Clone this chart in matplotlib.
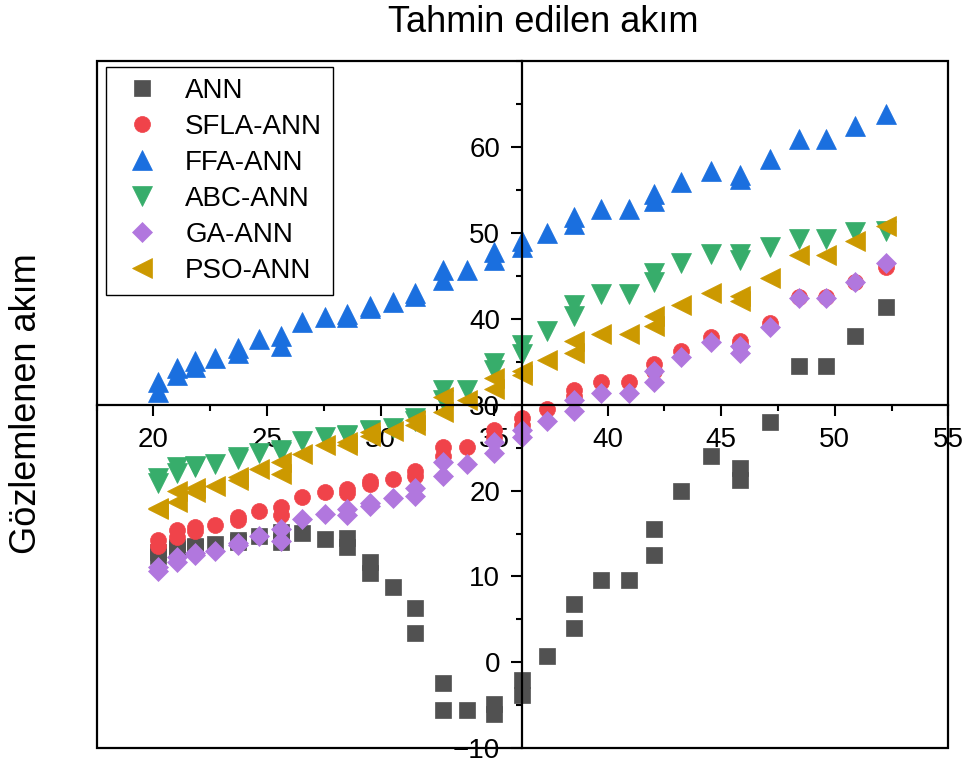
import matplotlib
matplotlib.use("Agg")
from matplotlib import pyplot as plt
from matplotlib.patches import Rectangle
from matplotlib.ticker import MultipleLocator

plt.rcParams['font.family'] = ['Liberation Sans', 'DejaVu Sans']

# shared x positions (some values repeat)
x = [20.22, 20.22, 21.05, 21.05, 21.85, 21.85, 22.73, 23.72, 23.72, 24.63,
     25.62, 25.62, 26.54, 27.55, 28.54, 28.54, 29.53, 29.53, 30.54, 31.53,
     31.53, 32.75, 32.75, 33.82, 35.0, 35.0, 36.23, 36.23, 37.35, 38.53,
     38.53, 39.72, 40.94, 42.03, 42.03, 43.24, 44.53, 45.81, 45.81, 47.13,
     48.43, 49.61, 50.91, 52.24]

ann = [12.9, 12.4, 13.4, 13.2, 13.6, 13.4, 13.8, 14.2, 14.0, 14.7,
       15.2, 14.0, 15.1, 14.4, 14.5, 13.4, 11.7, 10.4, 8.8, 6.3,
       3.4, -2.4, -5.6, -5.6, -4.8, -6.0, -2.0, -3.8, 0.7, 6.8,
       4.0, 9.6, 9.6, 15.5, 12.5, 19.9, 24.0, 22.6, 21.2, 28.0,
       34.5, 34.5, 38.0, 41.4]

sfla = [14.3, 13.6, 15.4, 14.6, 15.8, 15.3, 16.0, 16.9, 16.6, 17.6,
        18.1, 17.1, 19.3, 19.8, 20.2, 19.7, 21.1, 20.8, 21.4, 22.3,
        21.7, 25.1, 24.0, 25.1, 27.1, 26.2, 28.5, 27.6, 29.5, 31.7,
        31.0, 32.6, 32.6, 34.7, 33.9, 36.2, 37.9, 37.4, 36.9, 39.5,
        42.5, 42.5, 44.3, 46.0]

ffa = [32.6, 31.5, 34.3, 33.4, 35.1, 34.4, 35.4, 36.6, 36.0, 37.6,
       38.0, 36.8, 39.6, 40.2, 40.6, 40.2, 41.5, 41.2, 42.0, 43.0,
       42.6, 45.7, 44.5, 45.7, 47.8, 46.9, 49.0, 48.4, 50.0, 51.9,
       51.0, 52.8, 52.8, 54.5, 53.7, 55.9, 57.2, 56.7, 56.3, 58.6,
       60.9, 60.9, 62.4, 63.8]

abc = [21.5, 20.9, 22.7, 22.1, 22.9, 22.7, 23.1, 23.9, 23.7, 24.4,
       24.7, 24.5, 25.8, 26.2, 26.5, 26.3, 27.1, 26.9, 27.3, 28.5,
       28.1, 31.7, 30.6, 31.7, 34.9, 34.0, 37.0, 35.9, 38.6, 41.6,
       40.3, 42.9, 42.9, 45.3, 44.3, 46.5, 47.5, 47.5, 46.9, 48.4,
       49.3, 49.3, 50.1, 50.2]

ga = [11.1, 10.6, 12.3, 11.7, 12.7, 12.5, 13.0, 13.9, 13.7, 14.7,
      15.5, 14.1, 16.7, 17.3, 17.8, 17.1, 18.6, 18.2, 19.1, 20.3,
      19.4, 23.3, 21.7, 23.1, 25.6, 24.4, 27.0, 26.2, 28.1, 30.5,
      29.3, 31.4, 31.4, 33.9, 32.6, 35.5, 37.3, 36.8, 36.0, 39.1,
      42.4, 42.4, 44.3, 46.5]

pso = [18.0, 17.8, 19.9, 18.7, 20.3, 19.8, 20.5, 21.6, 21.2, 22.5,
       23.3, 21.9, 24.3, 25.3, 25.7, 25.3, 26.8, 26.4, 26.9, 28.2,
       27.6, 30.9, 29.2, 30.6, 33.1, 31.8, 33.9, 33.5, 35.2, 37.4,
       36.0, 38.2, 38.2, 40.3, 39.2, 41.6, 43.0, 42.7, 42.1, 44.7,
       47.4, 47.4, 49.0, 50.8]

labels = ['ANN', 'SFLA-ANN', 'FFA-ANN', 'ABC-ANN', 'GA-ANN', 'PSO-ANN']
series = [ann, sfla, ffa, abc, ga, pso]
colors = ['#515151', '#F0434A', '#1A6FDF', '#37AD6B', '#B177DE', '#CC9900']
markers = ['s', 'o', '^', 'v', 'D', '<']
sizes = [11, 11.5, 14, 14, 10.5, 14]

fig = plt.figure(figsize=(9.72, 7.64), dpi=100)
ax = fig.add_axes([0.0995, 0.0206, 0.8761, 0.8994])

for ys, lab, c, m, s in zip(series, labels, colors, markers, sizes):
    ax.plot(x, ys, linestyle='none', marker=m, ms=s, color=c,
            mec=c, mew=0.5, label=lab)

ax.set_xlim(17.5, 55)
ax.set_ylim(-10, 70)

# axes crossing in the middle
ax.spines['left'].set_position(('data', 36.25))
ax.spines['bottom'].set_position(('data', 30))
ax.spines['top'].set_visible(False)
ax.spines['right'].set_visible(False)
for sp in ['left', 'bottom']:
    ax.spines[sp].set_linewidth(1.6)

ax.add_patch(Rectangle((0, 0), 1, 1, transform=ax.transAxes, fill=False,
                       lw=1.6, edgecolor='black', clip_on=False, zorder=3))

ax.set_xticks([20, 25, 30, 35, 40, 45, 50, 55])
ax.set_yticks([-10, 0, 10, 20, 30, 40, 50, 60])
ax.xaxis.set_minor_locator(MultipleLocator(2.5))
ax.yaxis.set_minor_locator(MultipleLocator(5))
ax.tick_params(which='major', direction='out', length=8, width=1.5,
               labelsize=20, pad=8)
ax.tick_params(which='minor', direction='out', length=4.5, width=1.5)

fig.text(543 / 972, 1 - 22 / 764, 'Tahmin edilen akım', fontsize=26,
         ha='center', va='center')
fig.text(27 / 972, 1 - 404 / 764, 'Gözlemlenen akım', fontsize=26,
         ha='center', va='center', rotation=90)

leg = ax.legend(loc='upper left', bbox_to_anchor=(106 / 972, 1 - 66.7 / 764),
                bbox_transform=fig.transFigure, borderaxespad=0,
                fontsize=20, frameon=True, fancybox=False, framealpha=1,
                edgecolor='black', borderpad=0.4, handlelength=1.8,
                handletextpad=0.65, labelspacing=0.36)
leg.get_frame().set_linewidth(1.0)

fig.savefig('out.png', dpi=100)
